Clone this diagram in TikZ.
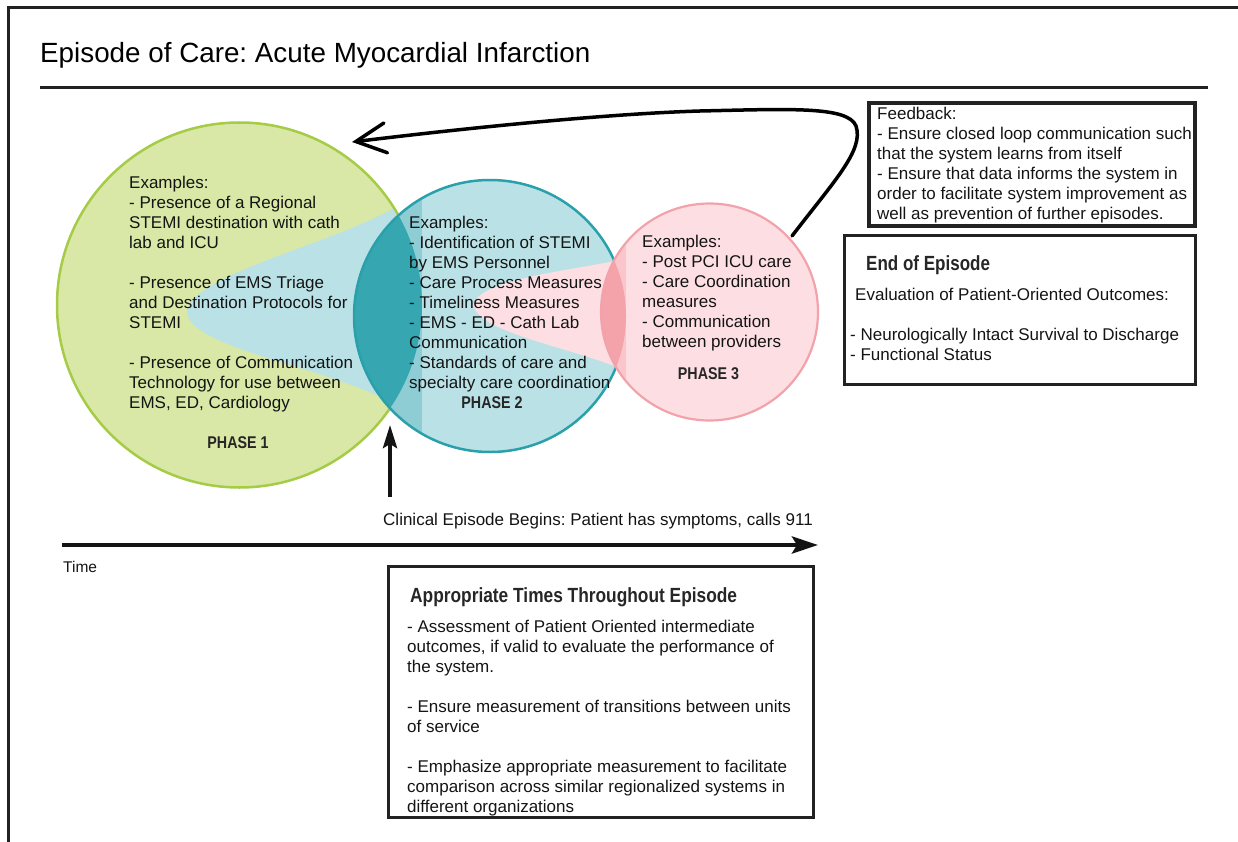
\documentclass[tikz,border=0pt]{standalone}
\usepackage{fontspec}
\usepackage{graphicx}
\setmainfont{Liberation Sans}
\usetikzlibrary{arrows.meta}
\definecolor{txt}{HTML}{141414}
\definecolor{hdtxt}{HTML}{262626}
\definecolor{framec}{HTML}{222222}
\definecolor{greenfill}{HTML}{D9E8A6}
\definecolor{greenline}{HTML}{A6CB46}
\definecolor{tealfill}{HTML}{BAE2E6}
\definecolor{tealline}{HTML}{2AA0AA}
\definecolor{tealstrip}{HTML}{8ECDD4}
\definecolor{teallens}{HTML}{36A7B1}
\definecolor{pinkfill}{HTML}{FDDFE3}
\definecolor{pinkline}{HTML}{F2A2AA}
\definecolor{pinkstrip}{HTML}{FAC6CC}
\definecolor{pinklens}{HTML}{F5A3AA}
\frenchspacing
\tikzset{
  body/.style={anchor=north west, inner sep=0pt, align=left, text=txt, font=\fontsize{17}{20}\selectfont},
  oneline/.style={anchor=base west, inner sep=0pt, text=txt, font=\fontsize{17}{20}\selectfont},
  phaselabel/.style={anchor=base, inner sep=0pt, text=hdtxt, font=\fontsize{17}{20}\selectfont\bfseries},
  heading/.style={anchor=base west, inner sep=0pt, text=hdtxt, font=\fontsize{20.5}{24}\selectfont\bfseries},
  boxframe/.style={draw=framec, line width=3pt},
  fbframe/.style={draw=framec, line width=4pt},
  rulestyle/.style={draw=framec, line width=3pt},
  fbarrow/.style={draw=black, line width=3.5pt, line cap=round, -{Straight Barb[length=30pt,width=30pt,line cap=round]}},
  timearrow/.style={draw=txt, line width=4.5pt, -{Stealth[length=26pt,width=17pt,inset=5pt]}},
  uparrow/.style={draw=txt, line width=4pt, -{Stealth[length=23pt,width=14pt,inset=4pt]}}
}
\newcommand{\fl}{\rule{0pt}{13pt}}
\begin{document}
\begin{tikzpicture}[x=1pt,y=-1pt]
\useasboundingbox (0,0) rectangle (1238,842);
% frame
\coordinate (frbl) at (8,842);
\coordinate (frtl) at (8,7.5);
\coordinate (frtr) at (1238,7.5);
\draw[framec, line width=3pt] (frbl) -- (frtl) -- (frtr);
% title
\node[anchor=base west, inner sep=0pt, text=black, font=\fontsize{27.8}{32}\selectfont] (title) at (40,63) {Episode of Care: Acute Myocardial Infarction};
\coordinate (rl) at (40,88);
\coordinate (rr) at (1208,88);
\draw[rulestyle] (rl) -- (rr);
% circle centres
\coordinate (c1) at (239.5,305);
\coordinate (c2) at (490,316);
\coordinate (c3) at (709.5,312);
% circle 1
\fill[greenfill] (c1) circle (182.5);
\begin{scope}
  \clip (c1) circle (182.5);
  \fill[tealfill] (394,208) .. controls (330,245) and (190,275) .. (187,312)
     .. controls (190,349) and (330,367) .. (394,404) -- (440,404) -- (440,208) -- cycle;
\end{scope}
\draw[greenline, line width=2.5pt] (c1) circle (182.5);
% circle 2
\fill[tealfill] (c2) circle (136);
\begin{scope}
  \clip (c2) circle (136);
  \fill[pinkfill] (615,261) .. controls (560,272) and (480,280) .. (473,305)
     .. controls (480,332) and (560,345) .. (617,367) -- (650,367) -- (650,261) -- cycle;
  \fill[tealstrip] (340,150) rectangle (422,480);
\end{scope}
\begin{scope}
  \clip (c1) circle (182.5);
  \fill[teallens] (c2) circle (136);
\end{scope}
\draw[tealline, line width=2.5pt] (c2) circle (136);
% circle 3
\fill[pinkfill] (c3) circle (108.5);
\begin{scope}
  \clip (c3) circle (108.5);
  \fill[pinkstrip] (590,190) rectangle (626,430);
\end{scope}
\begin{scope}
  \clip (c2) circle (136);
  \fill[pinklens] (c3) circle (108.5);
\end{scope}
\draw[pinkline, line width=2.2pt] (c3) circle (108.5);
% circle texts
\node[body] (t1) at (129,175) {\fl Examples:\\- Presence of a Regional\\STEMI destination with cath\\lab and ICU\\[20pt]- Presence of EMS Triage\\and Destination Protocols for\\STEMI\\[20pt]- Presence of Communication\\Technology for use between\\EMS, ED, Cardiology};
\node[body] (t2) at (409,215) {\fl Examples:\\- Identification of STEMI\\by EMS Personnel\\- Care Process Measures\\- Timeliness Measures\\- EMS - ED - Cath Lab\\Communication\\- Standards of care and\\specialty care coordination};
\node[body] (t3) at (642,234) {\fl Examples:\\- Post PCI ICU care\\- Care Coordination\\measures\\- Communication\\between providers};
\node[phaselabel] (p1) at (238,448) {\scalebox{0.84}[1]{PHASE 1}};
\node[phaselabel] (p2) at (492,408) {\scalebox{0.84}[1]{PHASE 2}};
\node[phaselabel] (p3) at (708.5,379) {\scalebox{0.84}[1]{PHASE 3}};
% feedback box
\draw[fbframe] (869,103) rectangle (1195,226);
\node[body] (fb) at (877,106) {\fl Feedback:\\- Ensure closed loop communication such\\that the system learns from itself\\- Ensure that data informs the system in\\order to facilitate system improvement as\\well as prevention of further episodes.};
% feedback arrow
\coordinate (fbstart) at (792,236);
\coordinate (fbend) at (352,142);
\draw[fbarrow] (fbstart) .. controls (835,180) and (864,150) .. (856,126)
   .. controls (848,106) and (790,109) .. (700,111)
   .. controls (600,114) and (450,130) .. (fbend);
% end of episode box
\draw[boxframe] (844.5,235.5) rectangle (1195.5,384.5);
\node[heading] (eoe) at (866,270.5) {\scalebox{0.83}[1]{End of Episode}};
\node[oneline] (eval) at (855,300) {Evaluation of Patient-Oriented Outcomes:};
\node[body] (eoel) at (850,327) {\fl - Neurologically Intact Survival to Discharge\\- Functional Status};
% clinical episode arrow
\coordinate (upbot) at (390,497);
\coordinate (uptop) at (390,425);
\draw[uparrow] (upbot) -- (uptop);
\node[oneline, font=\fontsize{17}{20}\selectfont] (clin) at (383,525) {Clinical Episode Begins: Patient has symptoms, calls 911};
% time axis
\coordinate (tstart) at (62,545);
\coordinate (tend) at (818,545);
\draw[timearrow] (tstart) -- (tend);
\node[oneline, font=\fontsize{15.5}{18}\selectfont] (time) at (63,572) {Time};
% appropriate times box
\draw[boxframe] (388.5,566.5) rectangle (813.5,817.5);
\node[heading] (apt) at (410,602.5) {\scalebox{0.845}[1]{Appropriate Times Throughout Episode}};
\node[body] (aptl) at (407,619) {\fl - Assessment of Patient Oriented intermediate\\outcomes, if valid to evaluate the performance of\\the system.\\[20pt]- Ensure measurement of transitions between units\\of service\\[20pt]- Emphasize appropriate measurement to facilitate\\comparison across similar regionalized systems in\\different organizations};
\end{tikzpicture}
\end{document}
